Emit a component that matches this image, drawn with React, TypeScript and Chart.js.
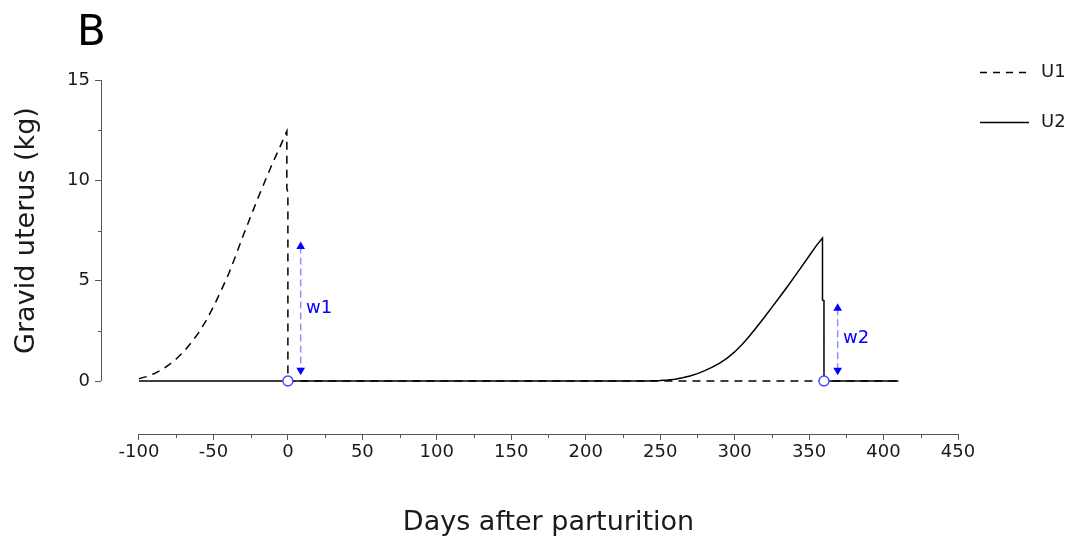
import { useEffect, useRef } from "react";
import { Chart, registerables } from "chart.js";

Chart.register(...registerables);

// ---- data ----
const u1Days = [-100, -95, -90, -85, -80, -75, -70, -65, -60, -55, -50, -45, -40, -35, -30, -25, -20, -15, -10, -5, -0.7, -0.7, 0, 0, 410];
const u1Kg = [0.12, 0.22, 0.36, 0.55, 0.8, 1.1, 1.46, 1.9, 2.4, 3.0, 3.7, 4.48, 5.3, 6.25, 7.25, 8.2, 9.13, 10.03, 10.9, 11.72, 12.45, 9.6, 9.4, 0, 0];

const u2Days = [-100, 240, 245, 250, 255, 260, 265, 270, 275, 280, 285, 290, 295, 300, 305, 310, 315, 320, 325, 330, 335, 340, 345, 350, 355, 359, 359, 360, 360, 410];
const u2Kg = [0, 0, 0.01, 0.02, 0.05, 0.09, 0.16, 0.25, 0.37, 0.52, 0.69, 0.89, 1.14, 1.45, 1.82, 2.24, 2.7, 3.18, 3.67, 4.16, 4.66, 5.18, 5.7, 6.23, 6.76, 7.12, 4.04, 4.0, 0, 0];

const markerDays = [0, 360];
const markerKg = [0, 0];

const w1Days = [8.6, 8.6];
const w1Kg = [6.7, 0.54];
const w2Days = [369.2, 369.2];
const w2Kg = [3.63, 0.54];

const arrowLabels = ["w1", "w2"];
const arrowLabelDays = [12.2, 372.8];
const arrowLabelKg = [3.64, 2.14];

const seriesNames = ["U1", "U2"];
const panelLetter = "B";
const xTitle = "Days after parturition";
const yTitle = "Gravid uterus (kg)";

const xTickValues = [-100, -50, 0, 50, 100, 150, 200, 250, 300, 350, 400, 450];
const xMinorTicks = [-75, -25, 25, 75, 125, 175, 225, 275, 325, 375, 425];
const yTickValues = [0, 5, 10, 15];
const yMinorTicks = [2.5, 7.5, 12.5];

const FONT = "'DejaVu Sans', sans-serif";
const AXIS = "#555555";
const TEXT = "#1a1a1a";
const BLUE = "#0000ff";

const pts = (xs: number[], ys: number[]) => xs.map((x, i) => ({ x, y: ys[i] }));

const decor = {
  id: "decor",
  afterDraw(chart: any) {
    const { ctx, chartArea, scales } = chart;
    const x = scales.x;
    const y = scales.y;
    ctx.save();
    ctx.strokeStyle = AXIS;
    ctx.lineWidth = 1;
    ctx.setLineDash([]);
    const xl = Math.round(chartArea.left) + 0.5;
    const yb = Math.round(chartArea.bottom) + 0.5;
    // spines
    ctx.beginPath();
    ctx.moveTo(xl, y.getPixelForValue(yTickValues[yTickValues.length - 1]));
    ctx.lineTo(xl, y.getPixelForValue(yTickValues[0]));
    ctx.stroke();
    ctx.beginPath();
    ctx.moveTo(x.getPixelForValue(xTickValues[0]), yb);
    ctx.lineTo(x.getPixelForValue(xTickValues[xTickValues.length - 1]), yb);
    ctx.stroke();
    // minor ticks
    ctx.beginPath();
    xMinorTicks.forEach((v) => {
      const px = Math.round(x.getPixelForValue(v)) + 0.5;
      ctx.moveTo(px, yb);
      ctx.lineTo(px, yb + 3.5);
    });
    yMinorTicks.forEach((v) => {
      const py = Math.round(y.getPixelForValue(v)) + 0.5;
      ctx.moveTo(xl, py);
      ctx.lineTo(xl - 3.5, py);
    });
    ctx.stroke();

    // arrow labels
    ctx.fillStyle = BLUE;
    ctx.font = `18px ${FONT}`;
    ctx.textAlign = "left";
    ctx.textBaseline = "middle";
    arrowLabels.forEach((t, i) => {
      ctx.fillText(t, x.getPixelForValue(arrowLabelDays[i]), y.getPixelForValue(arrowLabelKg[i]));
    });

    // panel letter
    ctx.fillStyle = "#000";
    ctx.font = `42px ${FONT}`;
    ctx.textBaseline = "alphabetic";
    ctx.fillText(panelLetter, 77, 45);

    // axis titles
    ctx.fillStyle = TEXT;
    ctx.font = `27px ${FONT}`;
    ctx.textAlign = "center";
    ctx.fillText(xTitle, (x.getPixelForValue(xTickValues[0]) + x.getPixelForValue(xTickValues[xTickValues.length - 1])) / 2, 530);
    ctx.save();
    ctx.translate(27, (y.getPixelForValue(0) + y.getPixelForValue(15)) / 2);
    ctx.rotate(-Math.PI / 2);
    ctx.textBaseline = "middle";
    ctx.fillText(yTitle, 0, 0);
    ctx.restore();

    // legend
    const legY = [72, 122];
    ctx.strokeStyle = "#000";
    ctx.lineWidth = 1.5;
    seriesNames.forEach((name, i) => {
      ctx.setLineDash(i === 0 ? [7, 6] : []);
      ctx.beginPath();
      ctx.moveTo(980, legY[i] + 0.5);
      ctx.lineTo(1029, legY[i] + 0.5);
      ctx.stroke();
      ctx.setLineDash([]);
      ctx.fillStyle = TEXT;
      ctx.font = `18px ${FONT}`;
      ctx.textAlign = "left";
      ctx.textBaseline = "middle";
      ctx.fillText(name, 1041, legY[i]);
    });
    ctx.restore();
  },
};

export default function App() {
  const ref = useRef<HTMLCanvasElement | null>(null);
  useEffect(() => {
    if (!ref.current) return;
    const arrowDs = (xs: number[], ys: number[]) => ({
      label: "arrow",
      data: pts(xs, ys),
      borderColor: "rgba(70,70,255,0.6)",
      borderWidth: 1.5,
      borderDash: [7, 4],
      pointStyle: "triangle",
      pointRadius: 5,
      pointRotation: [0, 180],
      pointBackgroundColor: BLUE,
      pointBorderColor: BLUE,
      pointBorderWidth: 0,
      tension: 0,
      order: 1,
    });
    const chart = new Chart(ref.current, {
      type: "line",
      data: {
        datasets: [
          {
            label: "markers",
            data: pts(markerDays, markerKg),
            showLine: false,
            pointRadius: 5,
            pointBackgroundColor: "#ffffff",
            pointBorderColor: "#4444ff",
            pointBorderWidth: 1.3,
            order: 0,
          },
          arrowDs(w1Days, w1Kg),
          arrowDs(w2Days, w2Kg),
          {
            label: seriesNames[1],
            data: pts(u2Days, u2Kg),
            borderColor: "#000",
            borderWidth: 1.5,
            pointRadius: 0,
            tension: 0,
            order: 2,
          },
          {
            label: seriesNames[0],
            data: pts(u1Days, u1Kg),
            borderColor: "#000",
            borderWidth: 1.5,
            borderDash: [8, 6],
            pointRadius: 0,
            tension: 0,
            order: 3,
          },
        ] as any,
      },
      options: {
        animation: false,
        responsive: false,
        layout: { padding: { left: 0, right: 117, top: 80, bottom: 0 } },
        plugins: { legend: { display: false }, tooltip: { enabled: false }, title: { display: false } },
        scales: {
          x: {
            type: "linear",
            min: -125.5,
            max: 450,
            afterFit: (s: any) => {
              s.height = 105;
            },
            afterBuildTicks: (s: any) => {
              s.ticks = xTickValues.map((v) => ({ value: v }));
            },
            border: { display: false },
            grid: { drawOnChartArea: false, drawTicks: true, tickLength: 6, color: AXIS, lineWidth: 1 },
            ticks: { font: { family: FONT, size: 18 }, color: TEXT, padding: 2, maxRotation: 0, autoSkip: false },
          },
          y: {
            type: "linear",
            min: -2.64,
            max: 15,
            afterFit: (s: any) => {
              s.width = 101;
            },
            afterBuildTicks: (s: any) => {
              s.ticks = yTickValues.map((v) => ({ value: v }));
            },
            border: { display: false },
            grid: { drawOnChartArea: false, drawTicks: true, tickLength: 6, color: AXIS, lineWidth: 1 },
            ticks: { font: { family: FONT, size: 18 }, color: TEXT, padding: 5, autoSkip: false },
          },
        },
      } as any,
      plugins: [decor],
    });
    return () => chart.destroy();
  }, []);
  return (
    <div style={{ position: "absolute", left: 0, top: 0, width: 1075, height: 539 }}>
      <canvas ref={ref} width={1075} height={539} />
    </div>
  );
}
